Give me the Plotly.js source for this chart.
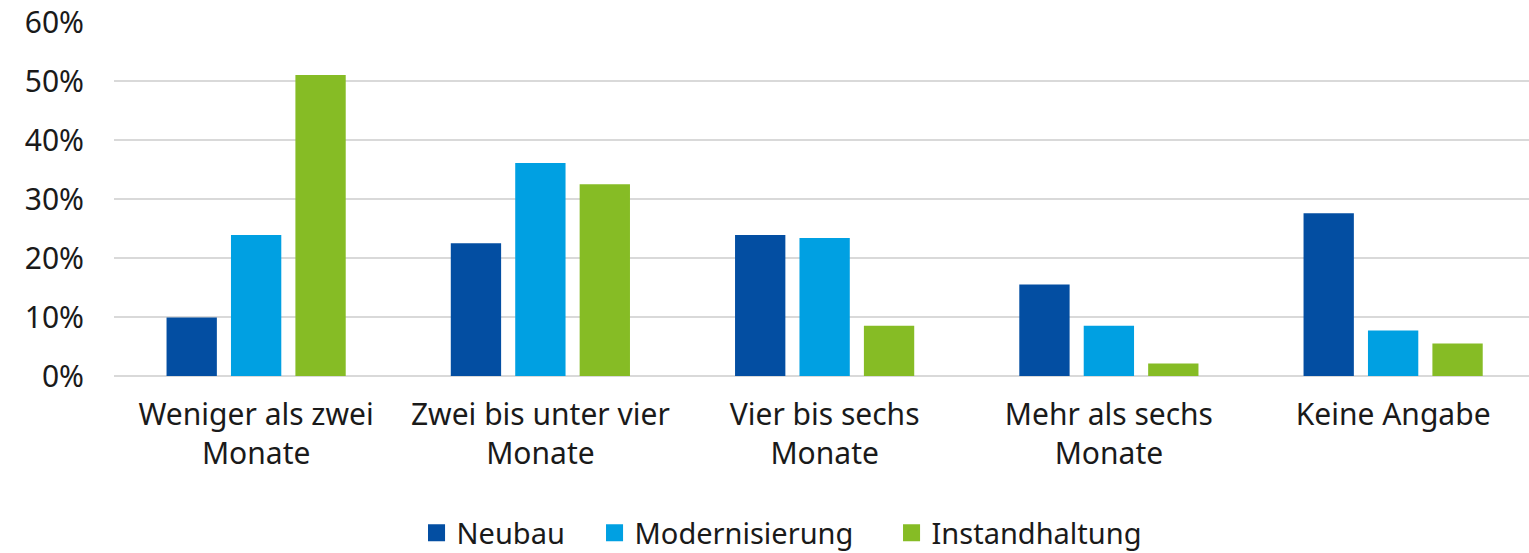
<!DOCTYPE html>
<html><head><meta charset="utf-8">
<script src="https://cdn.plot.ly/plotly-3.0.1.min.js"></script>
<style>body{margin:0;padding:0;background:#fff;}#chart{width:1529px;height:553px;}</style>
</head><body><div id="chart"></div>
<script>
const categories = ["Weniger als zwei<br>Monate", "Zwei bis unter vier<br>Monate", "Vier bis sechs<br>Monate", "Mehr als sechs<br>Monate", "Keine Angabe"];
const neubau = [0.099, 0.225, 0.239, 0.155, 0.276];
const modernisierung = [0.239, 0.361, 0.234, 0.085, 0.077];
const instandhaltung = [0.510, 0.325, 0.085, 0.021, 0.055];
const seriesNames = ["Neubau", "Modernisierung", "Instandhaltung"];
const colors = ["#034EA2", "#00A0E2", "#86BC25"];
const yTicks = [0, 0.1, 0.2, 0.3, 0.4, 0.5, 0.6];
const yTickLabels = ["0%", "10%", "20%", "30%", "40%", "50%", "60%"];

const fam = "Noto Sans, DejaVu Sans, sans-serif";
const xfont = {family: fam, size: 30, color: "#1a1a1a"};
const yfont = {family: fam, size: 30, color: "#1a1a1a"};
const lfont = {family: fam, size: 29, color: "#1a1a1a"};
const legendIds = ["legend", "legend2", "legend3"];
const legendX = [0.2138, 0.3396, 0.5495];
const data = [neubau, modernisierung, instandhaltung].map((vals, i) => ({
  type: "bar", x: categories, y: vals, name: seriesNames[i], legend: legendIds[i],
  marker: {color: colors[i], line: {width: 0}}, hoverinfo: "skip"
}));
const layout = {
  width: 1529, height: 553,
  margin: {l: 114, r: 0, t: 22, b: 177, autoexpand: false},
  paper_bgcolor: "#fff", plot_bgcolor: "#fff",
  font: xfont,
  barmode: "group", bargap: 0.32, bargroupgap: 0.219,
  showlegend: true,
  xaxis: {range: [-0.5, 4.478], showgrid: false, zeroline: false, showline: false, ticks: "", tickfont: xfont, automargin: false, ticklabelstandoff: 18},
  yaxis: {range: [0, 0.6], tickvals: yTicks, ticktext: yTickLabels, showgrid: true, gridcolor: "#D9D9D9", gridwidth: 2,
          zeroline: true, zerolinecolor: "#D9D9D9", zerolinewidth: 2, showline: false, ticks: "", tickfont: yfont,
          automargin: false, ticklabelstandoff: 29}
};
legendIds.forEach((id, i) => {
  layout[id] = {orientation: "h", x: legendX[i], xanchor: "left", y: -0.4435, yanchor: "middle", font: lfont, itemwidth: 30, bgcolor: "rgba(0,0,0,0)"};
});
Plotly.newPlot("chart", data, layout, {displayModeBar: false, staticPlot: true}).then(() => {
  document.querySelectorAll("g.legendpoints path").forEach(p => {
    const t = p.getAttribute("transform") || "";
    p.setAttribute("transform", t + " scale(1.42)");
  });
});
</script></body></html>
